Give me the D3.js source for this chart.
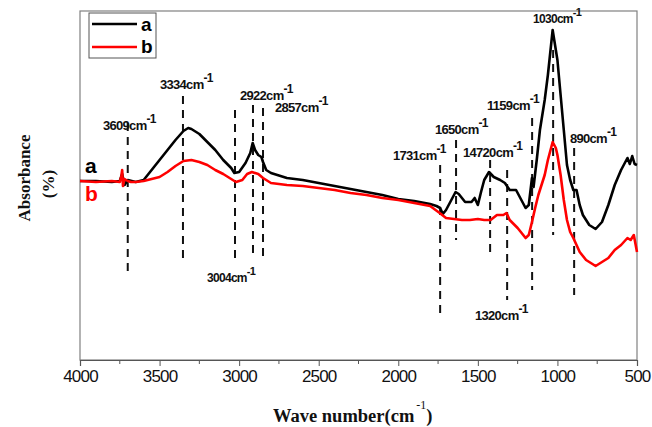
<!DOCTYPE html>
<html><head><meta charset="utf-8">
<script src="https://cdn.jsdelivr.net/npm/d3@7"></script>
<style>body{margin:0;background:#fff}svg{display:block}</style>
</head><body>
<svg id="c" width="652" height="427"></svg>
<script>
const xTicks = [4000,3500,3000,2500,2000,1500,1000,500];
const seriesA_x = [4000,3900,3800,3750,3735,3720,3700,3650,3600,3580,3540,3500,3450,3400,3350,3320,3300,3250,3200,3150,3100,3050,3030,3000,2960,2930,2915,2900,2880,2860,2850,2830,2800,2700,2600,2500,2400,2300,2200,2100,2000,1900,1800,1760,1737,1720,1700,1660,1640,1620,1580,1540,1520,1500,1480,1460,1430,1400,1360,1330,1300,1260,1200,1180,1160,1150,1130,1110,1080,1060,1040,1030,1020,1000,980,960,940,920,900,880,860,840,800,760,720,680,640,600,560,545,530,515,500];
const seriesA_y = [179,179,178,179,186,175,180,178,180,184,192,200,210,220,229,232,231,226,218,210,200,192,187,188,197,207,217,210,205,203,198,190,187,182,180,177,174,171,168,165,161,159,156,154,152,146,150,162,168,166,158,158,162,155,168,180,188,183,180,177,170,170,152,155,182,173,200,230,260,285,315,330,320,300,265,230,195,180,170,170,155,145,135,131,138,155,175,190,202,196,204,196,195];
const seriesB_x = [4000,3900,3800,3750,3740,3735,3730,3720,3700,3680,3650,3600,3500,3450,3400,3350,3300,3250,3200,3150,3100,3050,3020,2980,2950,2920,2880,2850,2800,2700,2600,2500,2400,2300,2200,2100,2000,1900,1800,1740,1700,1650,1600,1550,1500,1460,1420,1380,1340,1320,1300,1250,1200,1180,1160,1140,1120,1100,1080,1060,1040,1030,1010,1000,980,960,940,920,900,880,860,820,780,760,720,680,640,600,560,540,520,500];
const seriesB_y = [179,178,179,178,184,190,174,181,179,178,178,179,183,188,194,199,200,198,195,190,186,181,178,180,186,188,186,182,177,175,174,172,170,167,165,162,160,157,154,147,142,141,140,140,141,140,140,145,145,147,140,132,122,125,138,152,165,175,185,200,212,218,212,205,185,160,140,128,122,115,108,100,96,94,98,102,110,115,122,120,125,108];
const labels = ["a","b"];
const annotations = [
  {wn:3700, top:123, bottom:272, text:"3609cm", sup:"-1", lx:103, ly:130, fs:13},
  {wn:3353, top:96, bottom:260, text:"3334cm", sup:"-1", lx:160, ly:89, fs:13},
  {wn:3026, top:110, bottom:263, text:"3004cm", sup:"-1", lx:207, ly:282, fs:12},
  {wn:2913, top:105, bottom:258, text:"2922cm", sup:"-1", lx:240, ly:100, fs:13},
  {wn:2850, top:108, bottom:262, text:"2857cm", sup:"-1", lx:275, ly:112, fs:13},
  {wn:1737, top:165, bottom:318, text:"1731cm", sup:"-1", lx:393, ly:160, fs:13},
  {wn:1637, top:140, bottom:240, text:"1650cm", sup:"-1", lx:435, ly:134, fs:13},
  {wn:1423, top:160, bottom:258, text:"14720cm", sup:"-1", lx:463, ly:157, fs:13},
  {wn:1316, top:170, bottom:300, text:"1320cm", sup:"-1", lx:475, ly:320, fs:13},
  {wn:1159, top:118, bottom:290, text:"1159cm", sup:"-1", lx:487, ly:110, fs:13},
  {wn:1027, top:50, bottom:235, text:"1030cm", sup:"-1", lx:533, ly:23, fs:12},
  {wn:895, top:148, bottom:295, text:"890cm", sup:"-1", lx:570, ly:143, fs:13}
];

const svg = d3.select("#c");
const L=80, R=637, T=11, B=360;
const x = d3.scaleLinear().domain([4000,500]).range([L,R]);
const y = d3.scaleLinear().domain([0,349]).range([B,T]);

svg.append("rect").attr("x",L).attr("y",T).attr("width",R-L).attr("height",B-T)
  .attr("fill","none").attr("stroke","#808080").attr("stroke-width",1.2);

const ax = svg.append("g").attr("transform",`translate(0,${B})`)
  .call(d3.axisBottom(x).tickValues(xTicks).tickSize(6).tickPadding(4).tickFormat(d3.format("d")));
ax.select(".domain").attr("stroke","#555").attr("stroke-width",1.2);
ax.selectAll(".tick line").attr("stroke","#555");
ax.selectAll("text").attr("font-family","Liberation Sans, Arial, sans-serif").attr("font-size",17).attr("fill","#111").attr("letter-spacing","-0.8");
const minor = d3.range(3750,500,-500);
svg.append("g").selectAll("line").data(minor).join("line")
  .attr("x1",d=>x(d)).attr("x2",d=>x(d)).attr("y1",B).attr("y2",B+4).attr("stroke","#555");

svg.append("g").selectAll("line").data(annotations).join("line")
  .attr("x1",d=>x(d.wn)).attr("x2",d=>x(d.wn)).attr("y1",d=>d.top).attr("y2",d=>d.bottom)
  .attr("stroke","#111").attr("stroke-width",2).attr("stroke-dasharray","8,6");

const line = d3.line().x(d=>x(d[0])).y(d=>y(d[1]));
const dA = seriesA_x.map((v,i)=>[v,seriesA_y[i]]);
const dB = seriesB_x.map((v,i)=>[v,seriesB_y[i]]);
svg.append("path").datum(dA).attr("d",line).attr("fill","none").attr("stroke","#000").attr("stroke-width",2.6).attr("stroke-linejoin","round");
svg.append("path").datum(dB).attr("d",line).attr("fill","none").attr("stroke","#ff0000").attr("stroke-width",2.6).attr("stroke-linejoin","round");

const lab = svg.append("g").attr("font-family","Liberation Sans, Arial, sans-serif").attr("font-weight","bold").attr("fill","#111");
annotations.forEach(a=>{
  const t = lab.append("text").attr("x",a.lx).attr("y",a.ly).attr("font-size",a.fs).attr("letter-spacing","-0.7");
  t.append("tspan").text(a.text);
  t.append("tspan").attr("dy",-7).attr("font-size",a.fs-1).text(a.sup);
});

svg.append("text").attr("x",85).attr("y",173).attr("font-family","Liberation Sans, Arial, sans-serif").attr("font-weight","bold").attr("font-size",21).attr("fill","#000").text(labels[0]);
svg.append("text").attr("x",85).attr("y",201).attr("font-family","Liberation Sans, Arial, sans-serif").attr("font-weight","bold").attr("font-size",21).attr("fill","#ff0000").text(labels[1]);

const lg = svg.append("g");
lg.append("rect").attr("x",89).attr("y",13).attr("width",67).attr("height",45).attr("fill","#fff").attr("stroke","#555").attr("stroke-width",1);
const legendColors = ["#000","#ff0000"];
labels.forEach((s,i)=>{
  const yy = 24 + i*23;
  lg.append("line").attr("x1",92).attr("x2",137).attr("y1",yy).attr("y2",yy).attr("stroke",legendColors[i]).attr("stroke-width",2.5);
  lg.append("text").attr("x",141).attr("y",yy+(i===0?7:6)).attr("font-family","Liberation Sans, Arial, sans-serif").attr("font-weight","bold").attr("font-size",19).attr("fill","#000").text(s);
});

const yt = svg.append("g").attr("font-family","Liberation Serif, Times New Roman, serif").attr("font-weight","bold").attr("font-size",17).attr("fill","#111");
yt.append("text").attr("transform","translate(30,178) rotate(-90)").attr("text-anchor","middle").text("Absorbance");
yt.append("text").attr("transform","translate(54,184) rotate(-90)").attr("text-anchor","middle").text("(%)");

const xt = svg.append("text").attr("x",273).attr("y",422).attr("font-family","Liberation Serif, Times New Roman, serif").attr("font-weight","bold").attr("font-size",18.5).attr("fill","#111");
xt.append("tspan").text("Wave number(cm");
xt.append("tspan").attr("dx",2).attr("dy",-13).attr("font-size",12).attr("font-weight","normal").text("-1");
xt.append("tspan").attr("dy",13).text(")");
</script>
</body></html>
